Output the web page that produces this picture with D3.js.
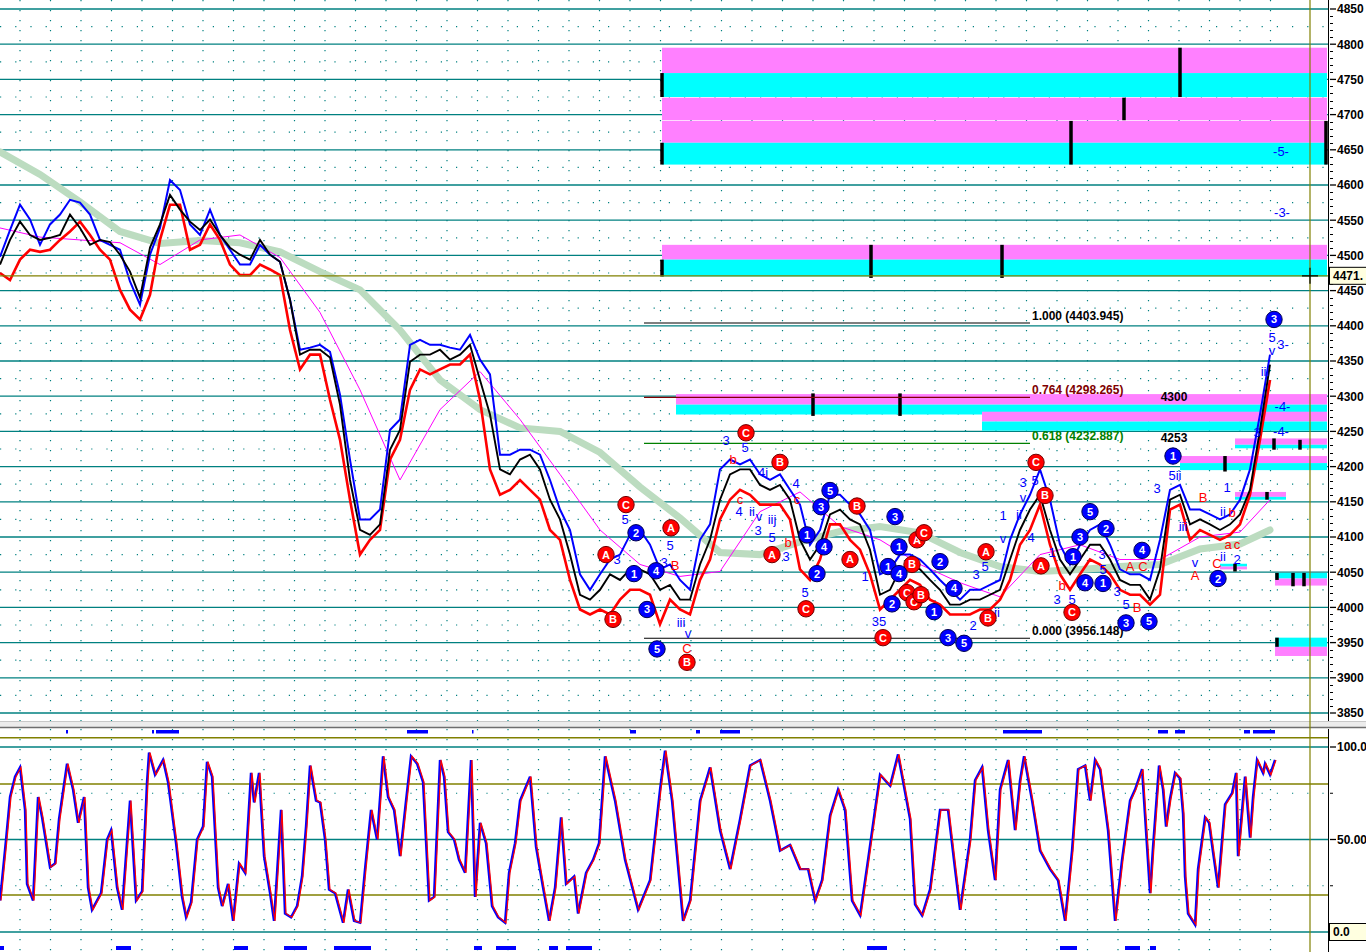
<!DOCTYPE html>
<html>
<head>
<meta charset="utf-8">
<script src="https://cdn.jsdelivr.net/npm/d3@7"></script>
<style>
body { margin: 0; background: #fff; }
svg { display: block; font-family: "Liberation Sans", Arial, sans-serif; }
</style>
</head>
<body>
<div id="chart"></div>
<script>
const WIDTH = 1366;
const HEIGHT = 952;

// price track sampled every 4 bars: black bars, blue upper line, red lower line
const closes = [
  4487,4522,4548,4529,4522,4525,4529,4558,4539,4515,
  4522,4519,4501,4477,4440,4511,4544,4586,4565,4548,
  4536,4551,4529,4511,4501,4494,4522,4501,4491,4437,
  4359,4366,4366,4355,4288,4181,4110,4103,4118,4224,
  4252,4349,4359,4359,4366,4352,4359,4373,4323,4274,
  4196,4189,4210,4217,4196,4153,4125,4075,4018,4011,
  4025,4047,4039,4054,4054,4047,4025,4032,4011,4011,
  4061,4096,4153,4189,4196,4196,4174,4167,4174,4153,
  4096,4068,4089,4132,4139,4125,4118,4082,4018,4025,
  4054,4061,4054,4039,4025,4004,4004,4011,4011,4018,
  4025,4068,4110,4139,4160,4110,4068,4047,4068,4089,
  4089,4068,4039,4032,4032,4011,4054,4153,4160,4118,
  4125,4118,4110,4118,4132,4167,4252,4345
];
const upper = [
  4498,4536,4572,4551,4515,4544,4558,4579,4575,4558,
  4522,4515,4508,4463,4430,4501,4539,4607,4593,4544,
  4529,4565,4529,4508,4487,4487,4515,4501,4491,4437,
  4366,4369,4373,4363,4302,4210,4125,4125,4139,4252,
  4267,4373,4380,4373,4373,4369,4366,4387,4352,4331,
  4217,4217,4224,4224,4217,4181,4139,4110,4047,4025,
  4047,4068,4075,4103,4110,4089,4054,4061,4039,4025,
  4096,4118,4196,4210,4203,4210,4189,4181,4189,4167,
  4146,4089,4110,4160,4160,4146,4132,4110,4047,4054,
  4075,4075,4068,4054,4039,4025,4011,4025,4025,4032,
  4039,4096,4132,4160,4196,4153,4089,4061,4089,4110,
  4118,4089,4054,4047,4047,4039,4096,4167,4174,4139,
  4139,4132,4125,4132,4153,4196,4274,4359
];
const lower = [
  4475,4465,4494,4508,4505,4508,4522,4534,4548,4529,
  4508,4494,4451,4423,4409,4444,4522,4572,4572,4508,
  4515,4544,4522,4487,4472,4472,4487,4480,4472,4394,
  4338,4359,4359,4295,4238,4153,4075,4096,4110,4210,
  4238,4309,4338,4331,4338,4345,4345,4359,4295,4196,
  4160,4167,4181,4167,4153,4110,4096,4039,3997,3990,
  3997,3990,4011,4025,4025,4018,3976,4011,3997,3990,
  4039,4068,4125,4153,4167,4160,4146,4146,4146,4125,
  4054,4039,4068,4118,4118,4096,4082,4047,3997,4011,
  4025,4039,4032,4011,4004,3990,3990,3990,3997,3997,
  4011,4039,4089,4110,4146,4089,4047,4025,4047,4068,
  4061,4047,4025,4018,4018,4004,4018,4139,4146,4096,
  4110,4103,4096,4103,4118,4160,4238,4323
];

// moving averages, one value every 16 bars (last one at bar 508)
const maBars = [0,16,32,48,64,80,96,112,128,144,160,176,192,208,224,240,256,272,288,304,320,336,352,368,384,400,416,432,448,464,480,496,508];
const maFast = [4539,4526,4522,4518,4487,4522,4529,4497,4419,4309,4181,4281,4335,4267,4189,4110,4061,4044,4051,4136,4164,4115,4096,4061,4035,4015,4075,4089,4068,4068,4100,4107,4153];
const maSlow = [4647,4615,4576,4534,4517,4521,4518,4505,4477,4451,4394,4323,4281,4255,4250,4220,4171,4127,4078,4075,4093,4108,4115,4106,4078,4058,4051,4054,4058,4061,4083,4090,4110];

// stochastic oscillator turning points [bar, value]
const osc = [
  [0,17],[2.4,50],[4,73],[6,84],[8,89],[10,66],[10.8,26],[13.2,17],[15.2,73],[16.8,62],
  [20,35],[22,37],[23.6,61],[26.8,91],[29.2,77],[31.2,59],[33.6,73],[35.2,24],[36.8,12],[40.4,21],
  [42.8,50],[44.4,55],[46.8,24],[48.8,12],[52,71],[54.4,17],[56.8,22],[58.8,81],[59.6,97],[62,85],
  [65.2,93],[67.2,81],[70.4,48],[72.8,19],[74.4,8],[76.4,16],[78.8,50],[81.2,57],[82.8,92],[84.8,84],
  [87.2,24],[88.8,14],[91.2,26],[93.2,6],[95.6,37],[98,32],[100.4,86],[101.6,70],[103.6,86],[105.6,41],
  [108,21],[109.6,6],[112.4,66],[114,10],[116.4,8],[118.8,14],[120.8,30],[122.4,57],[124,90],[126.4,71],
  [128,70],[130,50],[131.6,23],[134,21],[137.2,5],[139.2,23],[141.6,6],[144,5],[146,34],[148.4,66],
  [150.8,50],[153.2,95],[155.2,73],[157.6,66],[160,41],[162.4,71],[164.4,95],[166.8,91],[169.2,81],[171.6,17],
  [173.6,19],[176,93],[177.6,84],[179.2,54],[181.6,50],[183.6,39],[186,32],[188.4,93],[190,19],[192,59],
  [194.4,48],[196.8,14],[199.2,8],[202,5],[203.6,32],[206,48],[208,71],[212,84],[214.4,46],[217.2,24],
  [219.6,6],[222,24],[224.4,62],[226.4,26],[229.6,30],[231.2,10],[234.4,32],[237.2,39],[239.6,48],[242,95],
  [246,71],[250,39],[255.2,12],[260,28],[264,77],[266,98],[268.8,71],[273.2,6],[276,17],[280,71],
  [284,89],[288,55],[292,34],[296,61],[300,90],[304,93],[308,71],[312,44],[316,47],[320,34],
  [323.2,34],[326,17],[328.8,28],[332,63],[335.2,77],[338,66],[340.8,17],[344,9],[347.2,39],[350,66],
  [352,85],[356,79],[359.2,96],[364,61],[366,15],[368.8,9],[372,23],[376,66],[379.2,66],[382,34],
  [384,12],[388,50],[390,82],[392.8,89],[395.2,55],[398,28],[400,77],[403.2,93],[406,55],[408,82],
  [409.6,95],[412.8,71],[416,44],[420,34],[423.2,28],[426,6],[428.8,44],[431.2,88],[434,90],[436,71],
  [438,93],[440,88],[443.2,55],[446,6],[448.8,39],[452,71],[454,77],[456.8,88],[460,21],[461.2,46],
  [463.6,90],[465.2,77],[466.4,57],[468,72],[470,86],[472,83],[473.2,64],[474,30],[475.2,10],[478,4],
  [479.2,34],[482,62],[483.6,59],[485.2,43],[487.2,24],[490,69],[492.8,75],[494.4,86],[495.2,41],[498,84],
  [500,51],[501.2,73],[502.8,93],[505.2,86],[506,91],[508,85],[510,93]
];

// fibonacci retracement
const fibRatios = ['1.000', '0.764', '0.618', '0.000'];
const fibPrices = [4403.945, 4298.265, 4232.887, 3956.148];
const fibColors = ['#000000', '#800000', '#008000', '#000000'];
const fibSpan = [257.6, 412];

// target zones [barStart, barEnd, priceTop, priceBottom, kind]
const zones = [
  [264.8,530.8,4795,4759,'p'],[264.8,530.8,4759,4725,'c'],
  [264.8,530.8,4724,4692,'p'],[264.8,530.8,4691,4660,'p'],[264.8,530.8,4660,4629,'c'],
  [264.8,530.8,4515,4494,'p'],[264.8,530.8,4494,4470,'c'],
  [270.4,530.8,4303,4288,'p'],[270.4,530.8,4288,4274,'c'],
  [392.8,530.8,4278,4264,'p'],[392.8,530.8,4264,4251,'c'],
  [494,530.8,4240,4231,'p'],[494,530.8,4231,4226,'c'],
  [472,530.8,4215,4205,'p'],[472,530.8,4205,4195,'c'],
  [494,514.4,4164,4157,'p'],[494,514.4,4157,4153,'c'],
  [488,498.8,4062,4058,'c'],[488,498.8,4058,4054,'p'],
  [510,530.8,4049,4041,'c'],[510,530.8,4041,4031,'p'],
  [510,530.8,3957,3944,'c'],[510,530.8,3944,3931,'p']
];
// zone markers [bar, priceTop, priceBottom]
const markers = [
  [264.8,4759,4725],[264.8,4660,4629],[472,4795,4725],[449.6,4724,4692],[428.4,4691,4629],[530.4,4691,4629],
  [264.8,4494,4470],[348.4,4515,4468],[400.8,4515,4468],[325.2,4304,4272],[360,4304,4272],
  [509.6,4240,4224],[520,4238,4224],[490,4215,4193],[506.8,4164,4153],[494,4062,4051],
  [510.8,4049,4039],[517.2,4049,4030],[521.6,4049,4030],[510.8,3957,3944]
];

// wave counts [bar, price, text]
const redCircles = [
  [250.4,4146,'C'],[242.4,4075,'A'],[245.2,3983,'B'],[268.4,4113,'A'],[274.8,3922,'B'],
  [298.4,4248,'C'],[312,4206,'B'],[308.8,4075,'A'],[322.4,3998,'C'],[342.8,4144,'B'],
  [340,4068,'A'],[353.2,3957,'C'],[366.8,4096,'A'],[369.6,4106,'C'],[364.8,4061,'B'],
  [362.8,4021,'C'],[365.6,4008,'C'],[368.4,4018,'B'],[394.4,4079,'A'],[395.2,3985,'B'],
  [414.4,4206,'C'],[418,4159,'B'],[416.4,4059,'A'],[428.8,3993,'C']
];
const blueCircles = [
  [254.4,4106,'2'],[253.6,4048,'1'],[262.4,4052,'4'],[258.8,3997,'3'],[262.8,3941,'5'],
  [322.8,4103,'1'],[326.8,4048,'2'],[329.6,4086,'4'],[328.4,4143,'3'],[332,4166,'5'],
  [358,4129,'3'],[355.2,4058,'1'],[359.6,4086,'1'],[359.6,4048,'4'],[356.8,4005,'2'],
  [376,4065,'2'],[381.6,4027,'4'],[373.6,3994,'1'],[379.2,3957,'3'],[385.6,3949,'5'],
  [436,4136,'5'],[432,4100,'3'],[442.4,4112,'2'],[429.2,4072,'1'],[434,4035,'4'],
  [441.2,4034,'1'],[456.8,4081,'4'],[450.4,3978,'3'],[459.6,3980,'5'],[469.2,4215,'1'],
  [487.2,4041,'2'],[509.6,4409,'3']
];
const blueText = [
  [250,4125,'5'],[246.8,4068,'3'],[268,4088,'5'],[265.6,4064,'3'],[272.4,3979,'iii'],[275.2,3963,'v'],
  [290.4,4237,'3'],[298,4227,'5'],[295.6,4136,'4'],[300.8,4137,'ii'],[303.6,4129,'v'],[303.2,4110,'3'],
  [308.8,4125,'iij'],[308.8,4099,'5'],[314.4,4072,'3'],[318.4,4176,'4'],[305.2,4191,'4i'],[322,4021,'5'],
  [346,4044,'1'],[351.6,3980,'35'],[389.2,3975,'2'],[390.4,4047,'3'],[394,4058,'5'],[398.8,3993,'ii'],
  [401.2,4130,'1'],[401.2,4098,'v'],[409.2,4177,'3'],[409.2,4156,'v'],[414,4181,'5'],[407.6,4132,'ii'],
  [412.4,4099,'4'],[420.8,4078,'1'],[422.8,4012,'3'],[428.8,4012,'5'],[440.8,4075,'3'],[441.2,4054,'5'],
  [446.8,4022,'3'],[450.4,4004,'5'],[462.8,4169,'3'],[470,4188,'5ii'],[473.2,4115,'iii'],[478,4064,'v'],
  [489.2,4072,'ii'],[490.8,4171,'1'],[494.8,4068,'2'],[489.2,4136,'ii'],[508.8,4384,'5'],[508.8,4365,'v'],
  [506,4335,'iii'],[513.2,4373,'3-'],[513,4285,'-4-'],[512.4,4250,'-4-'],[502.8,4248,'3'],
  [512.4,4647,'-5-'],[512.8,4561,'-3-']
];
const redText = [
  [270,4059,'B'],[274.8,3941,'C'],[293.2,4210,'b'],[296,4154,'c'],[315.2,4092,'b'],[318.8,4153,'c'],
  [424.8,4031,'b'],[452,4058,'A'],[457.2,4058,'C'],[454.8,4000,'B'],[481.2,4156,'B'],[478,4046,'A'],
  [486.8,4062,'C'],[491.2,4090,'a'],[494.8,4090,'c'],[492.8,4135,'b']
];
const levelText = [[469.6,4299,'4300'],[469.6,4241,'4253']];

// blue event marks along the oscillator panel [barStart, barEnd]
const marksTop = [[26.4,27.2],[60.8,61.6],[62.4,71.6],[162.8,171.2],[188.8,189.4],[252,254.4],[278.4,280],[288,296],[401.2,416.8],[463.2,467.2],[470,474],[497.6,500],[501.2,510]];
const marksBottom = [[0,1.6],[46.4,52.4],[93.6,99.2],[113.6,122.8],[133.6,148.4],[189.6,192.8],[198.4,206.4],[219.6,223.2],[226.4,236.8],[346.8,354.8],[424,430.8],[450,456],[460,462.4]];

const priceTicks = d3.range(3850, 4851, 50);
const oscTicks = [100, 50];
const cursorPrice = 4471;
const cursorBar = 524;

const PLOT_RIGHT = 1328;
const MAIN = { TOP: 0, BOTTOM: 721 };
const OSC = { TOP: 729, BOTTOM: 952 };
const TEAL = '#008080';
const OLIVE = '#808000';

const x = d3.scaleLinear().domain([0, 530.8]).range([0, 1327]);
const y = d3.scaleLinear().domain([3850, 4850]).range([713, 9]);
const yOsc = d3.scaleLinear().domain([0, 100]).range([932, 747]);

const svg = d3.select('#chart')
  .append('svg')
  .attr('width', WIDTH)
  .attr('height', HEIGHT);

const defs = svg.append('defs');
defs.append('clipPath').attr('id', 'clipMain')
  .append('rect').attr('x', 0).attr('y', MAIN.TOP).attr('width', PLOT_RIGHT).attr('height', MAIN.BOTTOM - MAIN.TOP);
defs.append('clipPath').attr('id', 'clipOsc')
  .append('rect').attr('x', 0).attr('y', OSC.TOP).attr('width', PLOT_RIGHT).attr('height', OSC.BOTTOM - OSC.TOP);

const main = svg.append('g').attr('clip-path', 'url(#clipMain)');
const lowerPanel = svg.append('g').attr('clip-path', 'url(#clipOsc)');

// ---- grid, main panel
const gridBars = d3.range(8, 512, 12.2);
main.selectAll('.vgrid').data(gridBars).enter().append('line')
  .attr('x1', d => x(d)).attr('x2', d => x(d))
  .attr('y1', MAIN.TOP).attr('y2', MAIN.BOTTOM)
  .attr('stroke', TEAL).attr('stroke-width', 1.2).attr('stroke-dasharray', '1.2,8.8');

main.selectAll('.hdot').data(d3.range(3875, 4850, 50)).enter().append('line')
  .attr('x1', 0).attr('x2', PLOT_RIGHT)
  .attr('y1', d => y(d)).attr('y2', d => y(d))
  .attr('stroke', TEAL).attr('stroke-width', 1.2).attr('stroke-dasharray', '1.2,14');

main.selectAll('.hgrid').data(priceTicks).enter().append('line')
  .attr('x1', 0).attr('x2', PLOT_RIGHT)
  .attr('y1', d => y(d)).attr('y2', d => y(d))
  .attr('stroke', TEAL).attr('stroke-width', 1.3);

// ---- zones
main.selectAll('.zone').data(zones).enter().append('rect')
  .attr('x', d => x(d[0])).attr('width', d => x(d[1]) - x(d[0]))
  .attr('y', d => y(d[2])).attr('height', d => y(d[3]) - y(d[2]))
  .attr('fill', d => d[4] === 'p' ? '#ff80ff' : '#00ffff');

main.selectAll('.marker').data(markers).enter().append('line')
  .attr('x1', d => x(d[0])).attr('x2', d => x(d[0]))
  .attr('y1', d => y(d[1])).attr('y2', d => y(d[2]))
  .attr('stroke', '#000').attr('stroke-width', 3.5);

// ---- fib levels
fibPrices.forEach((p, i) => {
  main.append('line')
    .attr('x1', x(fibSpan[0])).attr('x2', x(fibSpan[1]))
    .attr('y1', y(p)).attr('y2', y(p))
    .attr('stroke', fibColors[i]).attr('stroke-width', 1.2);
  main.append('text')
    .attr('x', x(fibSpan[1]) + 2).attr('y', y(p) - 3)
    .attr('fill', fibColors[i])
    .attr('font-size', 12).attr('font-weight', 'bold')
    .text(`${fibRatios[i]} (${p.toFixed(3)})`);
});

main.selectAll('.lvl').data(levelText).enter().append('text')
  .attr('x', d => x(d[0])).attr('y', d => y(d[1]))
  .attr('dy', '0.35em').attr('text-anchor', 'middle')
  .attr('font-size', 12).attr('font-weight', 'bold')
  .text(d => d[2]);

// ---- price series
const priceBars = closes.map((_, i) => i * 4);
const line = arr => d3.line().x((d, i) => x(priceBars[i])).y(d => y(d))(arr);
const maLine = arr => d3.line().x((d, i) => x(maBars[i])).y(d => y(d))(arr);

main.append('path').attr('d', maLine(maSlow))
  .attr('fill', 'none').attr('stroke', '#bcdcc0').attr('stroke-width', 7).attr('stroke-linecap', 'round');
main.append('path').attr('d', maLine(maFast))
  .attr('fill', 'none').attr('stroke', '#ff00ff').attr('stroke-width', 1);
main.append('path').attr('d', line(lower))
  .attr('fill', 'none').attr('stroke', '#ff0000').attr('stroke-width', 2.6);
main.append('path').attr('d', line(upper))
  .attr('fill', 'none').attr('stroke', '#0000ff').attr('stroke-width', 2);
main.append('path').attr('d', line(closes))
  .attr('fill', 'none').attr('stroke', '#000').attr('stroke-width', 1.9);

// ---- wave labels
const drawText = (data, color) => {
  main.selectAll(null).data(data).enter().append('text')
    .attr('x', d => x(d[0])).attr('y', d => y(d[1]))
    .attr('dy', '0.35em').attr('text-anchor', 'middle')
    .attr('fill', color).attr('font-size', 13)
    .text(d => d[2]);
};
drawText(blueText, '#0000ff');
drawText(redText, '#ff0000');

const drawCircles = (data, fill, edge) => {
  const g = main.selectAll(null).data(data).enter().append('g')
    .attr('transform', d => `translate(${x(d[0])}, ${y(d[1])})`);
  g.append('circle').attr('r', 8.2).attr('fill', fill).attr('stroke', edge).attr('stroke-width', 1);
  g.append('text').attr('text-anchor', 'middle').attr('dy', '0.36em')
    .attr('fill', '#fff').attr('font-size', 11).attr('font-weight', 'bold')
    .text(d => d[2]);
};
drawCircles(redCircles, '#ff0000', '#700000');
drawCircles(blueCircles, '#0000ff', '#000050');

// cursor line in main panel
main.append('line')
  .attr('x1', 0).attr('x2', PLOT_RIGHT).attr('y1', y(cursorPrice)).attr('y2', y(cursorPrice))
  .attr('stroke', OLIVE).attr('stroke-width', 1.2);

// ---- oscillator panel
lowerPanel.selectAll('.vgrid').data(gridBars).enter().append('line')
  .attr('x1', d => x(d)).attr('x2', d => x(d))
  .attr('y1', OSC.TOP).attr('y2', OSC.BOTTOM)
  .attr('stroke', TEAL).attr('stroke-width', 1.2).attr('stroke-dasharray', '1.2,8.8');
lowerPanel.selectAll('.hdot').data([75, 25]).enter().append('line')
  .attr('x1', 0).attr('x2', PLOT_RIGHT).attr('y1', d => yOsc(d)).attr('y2', d => yOsc(d))
  .attr('stroke', TEAL).attr('stroke-width', 1.2).attr('stroke-dasharray', '1.2,14');
lowerPanel.selectAll('.hgrid').data([100, 50, 0]).enter().append('line')
  .attr('x1', 0).attr('x2', PLOT_RIGHT).attr('y1', d => yOsc(d)).attr('y2', d => yOsc(d))
  .attr('stroke', TEAL).attr('stroke-width', 1.3);
lowerPanel.selectAll('.olive').data([105, 80, 20]).enter().append('line')
  .attr('x1', 0).attr('x2', PLOT_RIGHT).attr('y1', d => yOsc(d)).attr('y2', d => yOsc(d))
  .attr('stroke', OLIVE).attr('stroke-width', 1.5);

const oscLine = d3.line().x(d => x(d[0])).y(d => yOsc(d[1]));
lowerPanel.append('path').attr('d', oscLine(osc))
  .attr('fill', 'none').attr('stroke', '#0000ff').attr('stroke-width', 2.4);
lowerPanel.append('path').attr('d', oscLine(osc))
  .attr('fill', 'none').attr('stroke', '#ff0000').attr('stroke-width', 1.2)
  .attr('transform', 'translate(1,0)');

lowerPanel.selectAll('.mtop').data(marksTop).enter().append('rect')
  .attr('x', d => x(d[0])).attr('width', d => Math.max(1.5, x(d[1]) - x(d[0])))
  .attr('y', 730).attr('height', 3.5).attr('fill', '#0000ff');
lowerPanel.selectAll('.mbot').data(marksBottom).enter().append('rect')
  .attr('x', d => x(d[0])).attr('width', d => Math.max(1.5, x(d[1]) - x(d[0])))
  .attr('y', 946).attr('height', 4).attr('fill', '#0000ff');

// ---- panel separator
svg.append('rect').attr('x', 0).attr('y', 721).attr('width', WIDTH).attr('height', 6).attr('fill', '#ececec');
svg.append('line').attr('x1', 0).attr('x2', WIDTH).attr('y1', 721.5).attr('y2', 721.5).attr('stroke', '#c8c8c8');
svg.append('line').attr('x1', 0).attr('x2', WIDTH).attr('y1', 727.5).attr('y2', 727.5).attr('stroke', '#6e6e6e').attr('stroke-width', 1.5);

// vertical cursor line across both panels
svg.append('line')
  .attr('x1', x(cursorBar)).attr('x2', x(cursorBar)).attr('y1', 0).attr('y2', HEIGHT)
  .attr('stroke', OLIVE).attr('stroke-width', 1.2);
const cx = x(cursorBar), cy = y(cursorPrice);
svg.append('path')
  .attr('d', `M${cx - 8},${cy}H${cx + 8}M${cx},${cy - 8}V${cy + 8}`)
  .attr('stroke', '#000').attr('stroke-width', 1.2);

// ---- right axes
const axisG = svg.append('g');
axisG.append('line').attr('x1', PLOT_RIGHT + 0.5).attr('x2', PLOT_RIGHT + 0.5).attr('y1', 0).attr('y2', 721).attr('stroke', '#000');
axisG.append('line').attr('x1', PLOT_RIGHT + 0.5).attr('x2', PLOT_RIGHT + 0.5).attr('y1', 729).attr('y2', HEIGHT).attr('stroke', '#000');

axisG.selectAll('.minor').data(d3.range(3850, 4860, 10).filter(d => d % 50 !== 0)).enter().append('line')
  .attr('x1', PLOT_RIGHT + 2).attr('x2', PLOT_RIGHT + 5)
  .attr('y1', d => Math.round(y(d)) + 0.5).attr('y2', d => Math.round(y(d)) + 0.5)
  .attr('stroke', '#000');
axisG.selectAll('.major').data(priceTicks).enter().append('line')
  .attr('x1', PLOT_RIGHT + 2).attr('x2', PLOT_RIGHT + 8)
  .attr('y1', d => y(d)).attr('y2', d => y(d))
  .attr('stroke', '#000').attr('stroke-width', 1.3);
axisG.selectAll('.plabel').data(priceTicks).enter().append('text')
  .attr('x', PLOT_RIGHT + 9).attr('y', d => y(d)).attr('dy', '0.36em')
  .attr('font-size', 12).attr('font-weight', 'bold')
  .text(d => d);

const boxLabel = (yc, label) => {
  axisG.append('rect').attr('x', PLOT_RIGHT + 1.5).attr('y', yc - 8.5).attr('width', 40).attr('height', 17)
    .attr('fill', '#ffffe0').attr('stroke', '#000');
  axisG.append('text').attr('x', PLOT_RIGHT + 5).attr('y', yc).attr('dy', '0.36em')
    .attr('font-size', 12).attr('font-weight', 'bold').text(label);
};
boxLabel(y(cursorPrice), '4471.');

axisG.selectAll('.ominor').data([75, 25]).enter().append('line')
  .attr('x1', PLOT_RIGHT + 2).attr('x2', PLOT_RIGHT + 5)
  .attr('y1', d => yOsc(d)).attr('y2', d => yOsc(d)).attr('stroke', '#000');
axisG.selectAll('.omajor').data(oscTicks).enter().append('line')
  .attr('x1', PLOT_RIGHT + 2).attr('x2', PLOT_RIGHT + 8)
  .attr('y1', d => yOsc(d)).attr('y2', d => yOsc(d)).attr('stroke', '#000').attr('stroke-width', 1.3);
axisG.selectAll('.olabel').data(oscTicks).enter().append('text')
  .attr('x', PLOT_RIGHT + 9).attr('y', d => yOsc(d)).attr('dy', '0.36em')
  .attr('font-size', 12).attr('font-weight', 'bold')
  .text(d => d === 100 ? '100.0' : '50.00');
boxLabel(yOsc(0), '0.0');
</script>
</body>
</html>
